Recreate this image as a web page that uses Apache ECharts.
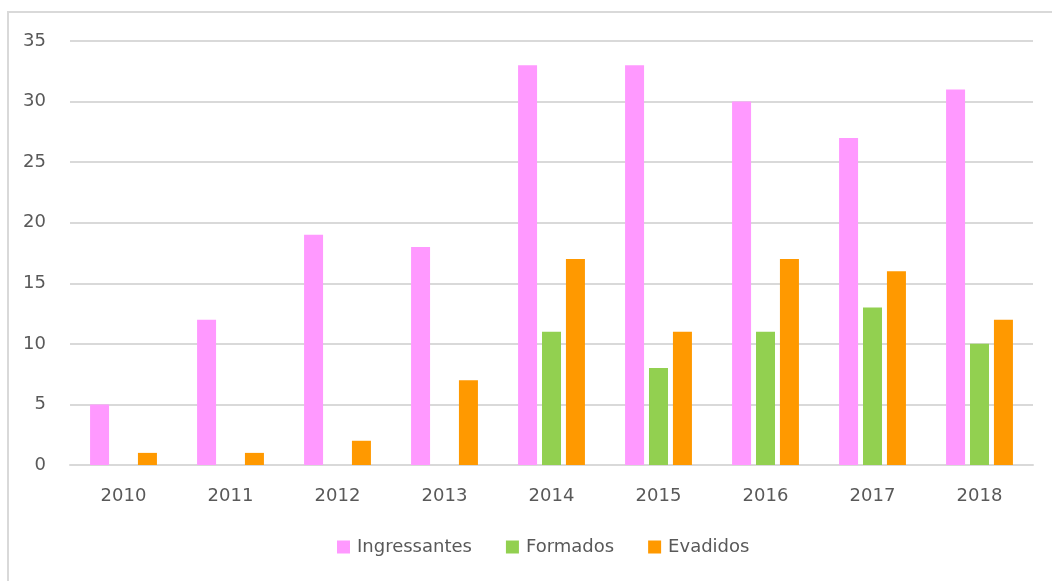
<!DOCTYPE html>
<html>
<head>
<meta charset="utf-8">
<script src="https://cdn.jsdelivr.net/npm/echarts@6/dist/echarts.min.js"></script>
<style>
  html, body { margin: 0; padding: 0; background: #fff; }
  #main { width: 1052px; height: 581px; }
</style>
</head>
<body>
<div id="main"></div>
<script>
var years = ['2010', '2011', '2012', '2013', '2014', '2015', '2016', '2017', '2018'];
var ingressantes = [5, 12, 19, 18, 33, 33, 30, 27, 31];
var formados = [0, 0, 0, 0, 11, 8, 11, 13, 10];
var evadidos = [1, 1, 2, 7, 17, 11, 17, 16, 12];
var yTicks = [0, 5, 10, 15, 20, 25, 30, 35];

var myChart = echarts.init(document.getElementById('main'));
var txt = '#595959';
var font = 'DejaVu Sans';

myChart.setOption({
  animation: false,
  graphic: [{
    type: 'rect',
    shape: { x: 8, y: 12, width: 1100, height: 620 },
    style: { fill: 'none', stroke: '#d9d9d9', lineWidth: 2 }
  }],
  grid: { left: 70, right: 19, top: 41, bottom: 116 },
  legend: {
    bottom: 20,
    left: 332,
    itemWidth: 13,
    itemHeight: 13,
    itemGap: 34,
    icon: 'rect',
    textStyle: { color: txt, fontSize: 18, fontFamily: font, padding: [0, 0, 0, 2] },
    data: ['Ingressantes', 'Formados', 'Evadidos']
  },
  xAxis: {
    type: 'category',
    data: years,
    axisLine: { lineStyle: { color: '#d9d9d9', width: 2 } },
    axisTick: { show: false },
    axisLabel: { color: txt, fontSize: 18, fontFamily: font, margin: 22 }
  },
  yAxis: {
    type: 'value',
    min: yTicks[0],
    max: yTicks[yTicks.length - 1],
    interval: 5,
    axisLine: { show: false },
    axisTick: { show: false },
    splitLine: { lineStyle: { color: '#d9d9d9', width: 2 } },
    axisLabel: { color: txt, fontSize: 18, fontFamily: font, margin: 24 }
  },
  series: [
    { name: 'Ingressantes', type: 'bar', data: ingressantes, barWidth: 19, barGap: '26%', barCategoryGap: '38%', itemStyle: { color: '#ff99ff' } },
    { name: 'Formados', type: 'bar', data: formados, barWidth: 19, itemStyle: { color: '#92d050' } },
    { name: 'Evadidos', type: 'bar', data: evadidos, barWidth: 19, itemStyle: { color: '#ff9900' } }
  ]
});
</script>
</body>
</html>
